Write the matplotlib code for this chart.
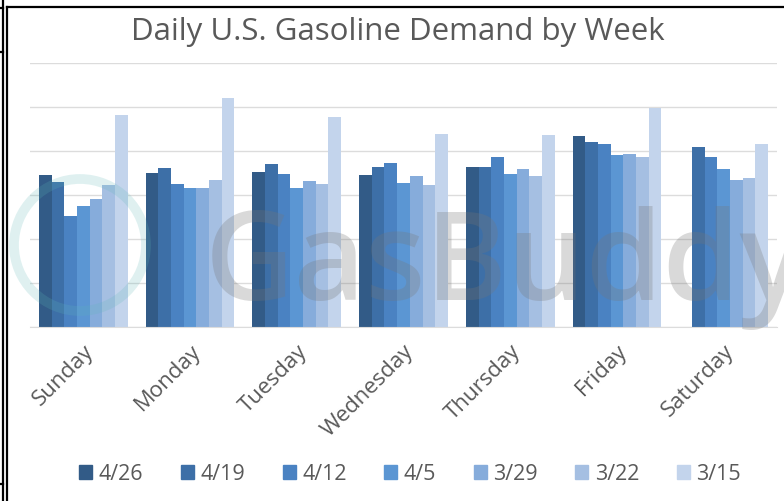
import matplotlib.pyplot as plt
import matplotlib.patches as mpatches
from matplotlib.lines import Line2D
import numpy as np

days = ['Sunday', 'Monday', 'Tuesday', 'Wednesday', 'Thursday', 'Friday', 'Saturday']
weeks = ['4/26', '4/19', '4/12', '4/5', '3/29', '3/22', '3/15']

# demand per day, in gridline units (the chart shows no y scale)
w_0426 = [3.45, 3.49, 3.52, 3.45, 3.64, 4.34, np.nan]
w_0419 = [3.30, 3.61, 3.70, 3.64, 3.64, 4.21, 4.10]
w_0412 = [2.52, 3.25, 3.48, 3.73, 3.87, 4.15, 3.87]
w_0405 = [2.75, 3.15, 3.17, 3.28, 3.47, 3.90, 3.60]
w_0329 = [2.92, 3.17, 3.32, 3.44, 3.58, 3.94, 3.34]
w_0322 = [3.23, 3.34, 3.24, 3.23, 3.44, 3.87, 3.39]
w_0315 = [4.82, 5.20, 4.77, 4.39, 4.36, 4.97, 4.16]
series = [w_0426, w_0419, w_0412, w_0405, w_0329, w_0322, w_0315]

colors = ['#325b87', '#3d6fa7', '#4a82c2', '#5b96d3', '#86acdb', '#a5bfe2', '#c3d4ec']
text_col = '#595959'

fig = plt.figure(figsize=(7.84, 5.01), dpi=100)
ax = fig.add_axes([30 / 784, 1 - 327 / 501, 747 / 784, 264 / 501])

x = np.arange(len(days))
bw = 0.1187
for i in range(len(weeks)):
  ax.bar(x + (i - 3) * bw, series[i], bw, color=colors[i], label=weeks[i], zorder=2)

ax.set_xlim(-0.5, len(days) - 0.5)
ax.set_ylim(0, 6)
ax.set_yticks(range(0, 7))
ax.set_yticklabels([])
ax.yaxis.grid(True, color='#dcdcdc', linewidth=1, zorder=0)
ax.tick_params(axis='both', length=0)
for s in ['top', 'right', 'left']:
  ax.spines[s].set_visible(False)
ax.spines['bottom'].set_color('#dcdcdc')

ax.set_xticks(x)
ax.set_xticklabels(days, rotation=45, ha='right', rotation_mode='anchor',
                   fontsize=16, color=text_col, family='Open Sans')
ax.tick_params(axis='x', pad=10)

fig.text(0.508, 1 - 32 / 501, 'Daily U.S. Gasoline Demand by Week', ha='center', va='center',
         fontsize=22.5, color=text_col, family='Open Sans')

handles = [mpatches.Patch(color=colors[i], label=weeks[i]) for i in range(len(weeks))]
fig.legend(handles=handles, loc='center', bbox_to_anchor=(0.523, 1 - 474 / 501), ncol=7,
           frameon=False, handlelength=0.6, handleheight=0.6, handletextpad=0.3,
           columnspacing=1.75, prop={'family': 'Open Sans', 'size': 15.5}, labelcolor=text_col)

# GasBuddy watermark
fig.text(205 / 784, 1 - 300 / 501, 'GasBuddy', fontsize=89, color='#777777', alpha=0.28,
         family='Open Sans', fontweight='semibold', zorder=5)
fig.patches.append(mpatches.Ellipse((80 / 784, 1 - 245 / 501), 132 / 784, 132 / 501,
                                    transform=fig.transFigure, fill=False,
                                    edgecolor='#5fb8b8', linewidth=7, alpha=0.2))

# screenshot cell borders
def fline(x0, y0, x1, y1, lw=1.6):
  fig.add_artist(Line2D([x0 / 784, x1 / 784], [1 - y0 / 501, 1 - y1 / 501],
                        color='black', linewidth=lw, transform=fig.transFigure))

fline(3, 0, 3, 501)
fline(7, 7, 7, 501)
fline(7, 7, 784, 7)
fline(0, 8, 3, 8)
fline(0, 52, 3, 52)
fline(0, 484, 3, 484)

fig.savefig('out.png', dpi=100)
